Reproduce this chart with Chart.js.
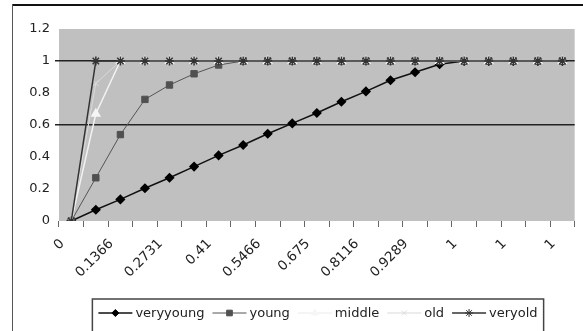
<!DOCTYPE html>
<html>
<head>
<meta charset="utf-8">
<script src="https://cdn.jsdelivr.net/npm/chart.js@4/dist/chart.umd.min.js"></script>
<style>
  html, body { margin: 0; padding: 0; background: #fff; }
  #wrap { width: 583px; height: 331px; }
</style>
</head>
<body>
<div id="wrap"><canvas id="myChart" width="583" height="331"></canvas></div>
<script>
// categories (only every other one is labelled in the picture)
var categories = ['0', '0.0683', '0.1366', '0.2049', '0.2731', '0.3416', '0.41', '0.4783', '0.5466', '0.6116',
    '0.675', '0.7433', '0.8116', '0.8703', '0.9289', '0.9833', '1', '1', '1', '1', '1'];

var veryyoung = [0, 0.07, 0.135, 0.205, 0.27, 0.34, 0.41, 0.475, 0.545, 0.61, 0.675, 0.745, 0.81, 0.88, 0.93, 0.98, 1, 1, 1, 1, 1];
var young     = [0, 0.27, 0.54, 0.76, 0.85, 0.92, 0.975, 1, 1, 1, 1, 1, 1, 1, 1, 1, 1, 1, 1, 1, 1];
var middle    = [0, 0.67, 1, 1, 1, 1, 1, 1, 1, 1, 1, 1, 1, 1, 1, 1, 1, 1, 1, 1, 1];
var old       = [0, 0.86, 1, 1, 1, 1, 1, 1, 1, 1, 1, 1, 1, 1, 1, 1, 1, 1, 1, 1, 1];
var veryold   = [0, 1, 1, 1, 1, 1, 1, 1, 1, 1, 1, 1, 1, 1, 1, 1, 1, 1, 1, 1, 1];

var yTicks = [0, 0.2, 0.4, 0.6, 0.8, 1, 1.2];
var gridAt = [0.6, 1];

var FONT = 'DejaVu Sans';

// gray plot area, outer frame and the hand drawn legend
var excelLook = {
    id: 'excelLook',
    beforeDraw: function(chart) {
        var c = chart.ctx, a = chart.chartArea;
        c.save();
        c.fillStyle = '#c0c0c0';
        c.fillRect(a.left, a.top, a.right - a.left, a.bottom - a.top);
        c.restore();
    },
    afterDraw: function(chart) {
        var c = chart.ctx;
        c.save();
        // frame
        c.strokeStyle = '#111';
        c.lineWidth = 2;
        c.beginPath();
        c.moveTo(12, 5);
        c.lineTo(590, 5);
        c.stroke();
        c.strokeStyle = '#555';
        c.lineWidth = 1;
        c.beginPath();
        c.moveTo(12.5, 4);
        c.lineTo(12.5, 331);
        c.stroke();

        // legend
        c.font = '13px "' + FONT + '"';
        c.textBaseline = 'middle';
        var ds = chart.data.datasets;
        var lineLen = 34, gap = 3, between = 8;
        var total = 0;
        for (var i = 0; i < ds.length; i++) {
            total += lineLen + gap + c.measureText(ds[i].label).width;
            if (i < ds.length - 1) total += between;
        }
        var x = 318 - total / 2;
        var y = 313;
        c.strokeStyle = '#444';
        c.lineWidth = 1.5;
        c.strokeRect(x - 6, 299, total + 12, 60);
        for (var j = 0; j < ds.length; j++) {
            var d = ds[j];
            c.strokeStyle = d.borderColor;
            c.lineWidth = d.borderWidth;
            c.beginPath();
            c.moveTo(x, y);
            c.lineTo(x + lineLen, y);
            c.stroke();
            if (Chart.helpers && Chart.helpers.drawPoint) {
                c.fillStyle = d.pointBackgroundColor;
                c.strokeStyle = d.pointBorderColor;
                c.lineWidth = 1;
                Chart.helpers.drawPoint(c, {pointStyle: d.pointStyle, radius: d.pointRadius - 0.5, borderWidth: 1, rotation: 0}, x + lineLen / 2, y);
            }
            c.fillStyle = '#222';
            c.fillText(d.label, x + lineLen + gap, y + 0.5);
            x += lineLen + gap + c.measureText(d.label).width + between;
        }
        c.restore();
    }
};

var ctx = document.getElementById('myChart').getContext('2d');
var myChart = new Chart(ctx, {
    type: 'line',
    data: {
        labels: categories,
        datasets: [
            {label: 'veryyoung', data: veryyoung, order: 5, borderColor: '#111', borderWidth: 1.5,
             pointStyle: 'rectRot', pointRadius: 4, pointBackgroundColor: '#000', pointBorderColor: '#000'},
            {label: 'young', data: young, order: 4, borderColor: '#555', borderWidth: 1,
             pointStyle: 'rect', pointRadius: 4.5, pointBackgroundColor: '#505050', pointBorderColor: '#505050'},
            {label: 'middle', data: middle, order: 3, borderColor: '#f2f2f2', borderWidth: 1.5,
             pointStyle: 'triangle', pointRadius: 4.5, pointBackgroundColor: '#f6f6f6', pointBorderColor: '#f6f6f6'},
            {label: 'old', data: old, order: 2, borderColor: '#d9d9d9', borderWidth: 1,
             pointStyle: 'crossRot', pointRadius: 4, pointBackgroundColor: '#dcdcdc', pointBorderColor: '#dcdcdc'},
            {label: 'veryold', data: veryold, order: 1, borderColor: '#333', borderWidth: 1.5,
             pointStyle: 'star', pointRadius: 4.5, pointBackgroundColor: '#333', pointBorderColor: '#333'}
        ]
    },
    options: {
        responsive: false,
        animation: false,
        events: [],
        layout: {padding: {left: 14, right: 5, top: 29, bottom: 30}},
        plugins: {
            legend: {display: false},
            tooltip: {enabled: false}
        },
        elements: {
            line: {tension: 0},
            point: {borderWidth: 1}
        },
        scales: {
            x: {
                offset: true,
                border: {display: false},
                grid: {
                    offset: true,
                    drawOnChartArea: false,
                    drawTicks: true,
                    tickLength: 6,
                    color: '#666',
                    lineWidth: 1
                },
                ticks: {
                    autoSkip: false,
                    minRotation: 45,
                    maxRotation: 45,
                    labelOffset: -9,
                    padding: 9,
                    color: '#222',
                    font: {family: FONT, size: 13.5},
                    callback: function(val, index) {
                        return index % 2 === 0 ? this.getLabelForValue(val) : '';
                    }
                },
                afterFit: function(scale) { scale.height = 80; }
            },
            y: {
                min: 0,
                max: 1.2,
                border: {display: false},
                afterBuildTicks: function(scale) {
                    scale.ticks = yTicks.map(function(v) { return {value: v}; });
                },
                grid: {
                    drawTicks: true,
                    tickLength: 4,
                    lineWidth: 1.5,
                    color: function(c) {
                        var v = c.tick ? c.tick.value : null;
                        for (var i = 0; i < gridAt.length; i++) {
                            if (v !== null && Math.abs(v - gridAt[i]) < 1e-6) return '#222';
                        }
                        return 'rgba(0,0,0,0)';
                    }
                },
                ticks: {
                    padding: 5,
                    color: '#222',
                    font: {family: FONT, size: 13},
                    callback: function(v) { return String(Math.round(v * 10) / 10); }
                },
                afterFit: function(scale) { scale.width = 45; }
            }
        }
    },
    plugins: [excelLook]
});
</script>
</body>
</html>
